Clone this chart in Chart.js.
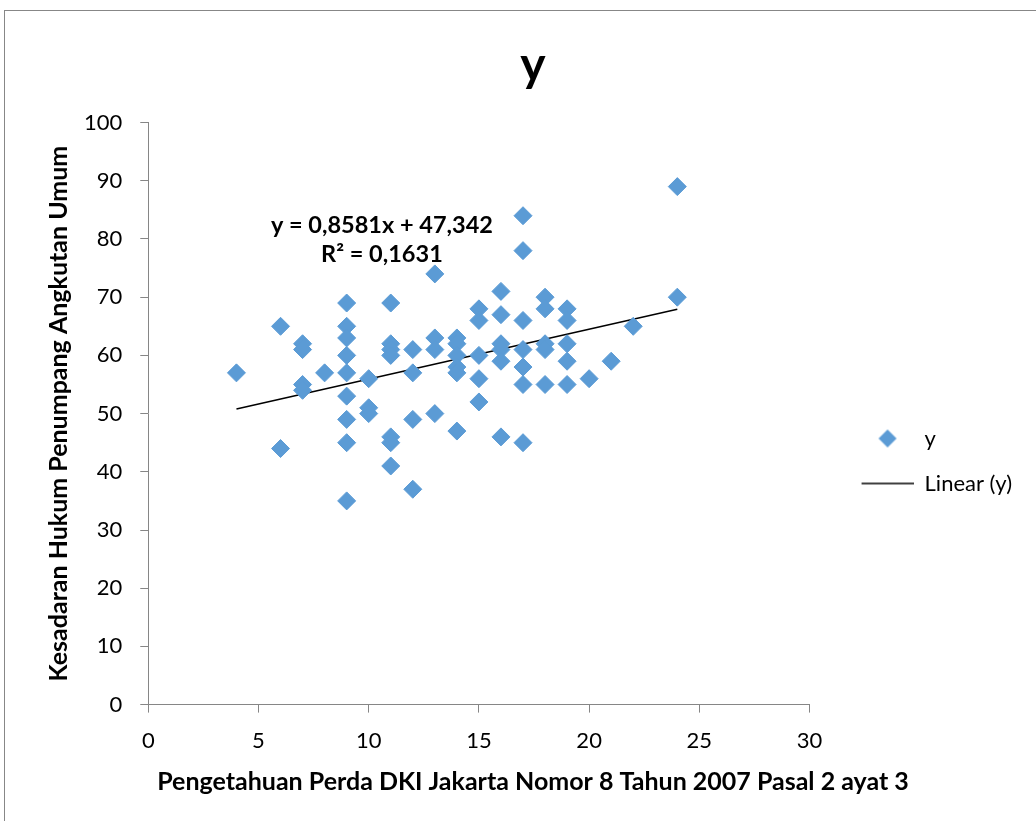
<!DOCTYPE html>
<html>
<head>
<meta charset="utf-8">
<script src="https://cdn.jsdelivr.net/npm/chart.js@4/dist/chart.umd.min.js"></script>
<style>
  html, body { margin: 0; padding: 0; background: #fff; overflow: hidden; }
  #box { position: absolute; left: 4px; top: 10px; border: 1px solid #878787; width: 1050px; height: 900px; }
</style>
</head>
<body>
<div id="box"><canvas id="myChart" width="1050" height="900"></canvas></div>
<script>
// Datos
const xValues = [4, 6, 6, 7, 7, 7, 7, 8,
  9, 9, 9, 9, 9, 9, 9, 9, 9,
  10, 10, 10,
  11, 11, 11, 11, 11, 11, 11,
  12, 12, 12, 12,
  13, 13, 13, 13,
  14, 14, 14, 14, 14, 14,
  15, 15, 15, 15, 15,
  16, 16, 16, 16, 16, 16,
  17, 17, 17, 17, 17, 17, 17,
  18, 18, 18, 18, 18,
  19, 19, 19, 19, 19,
  20, 21, 22, 24, 24];
const yValues = [57, 65, 44, 62, 61, 55, 54, 57,
  69, 65, 63, 60, 57, 53, 49, 45, 35,
  56, 51, 50,
  69, 62, 61, 60, 46, 45, 41,
  61, 57, 49, 37,
  74, 63, 61, 50,
  63, 62, 60, 58, 57, 47,
  68, 66, 60, 56, 52,
  71, 67, 62, 61, 59, 46,
  84, 78, 66, 61, 58, 55, 45,
  70, 68, 62, 61, 55,
  68, 66, 62, 59, 55,
  56, 59, 65, 89, 70];

// Linea de tendencia (ecuacion del grafico)
const slope = 0.8581;
const intercept = 47.342;
const rSquared = 0.1631;
const trendX = [4, 24];
// Posicion de la etiqueta de la ecuacion (en unidades de datos)
const eqLabelX = 10.6;
const eqLabelY = [82.4, 77.3];

const seriesName = 'y';
const trendName = 'Linear (y)';
const xTitle = 'Pengetahuan Perda DKI Jakarta Nomor 8 Tahun 2007 Pasal 2 ayat 3';
const yTitle = 'Kesadaran Hukum Penumpang Angkutan Umum';

const blue = '#5b9bd5';
const axisGray = '#868686';
const font = 'Lato';

const comma = (v) => String(v).replace('.', ',');
const eqLines = [
  'y = ' + comma(slope) + 'x + ' + comma(intercept),
  'R² = ' + comma(rSquared)
];

// Iconos de la leyenda
const legendGap = 29;
const legendLine = 52;
function legendIcon(kind) {
  let c = document.createElement('canvas');
  c.width = legendGap + legendLine;
  c.height = 20;
  let g = c.getContext('2d');
  if (kind === 'diamond') {
    let cx = legendGap + legendLine / 2, cy = 10, r = 9;
    g.fillStyle = blue;
    g.beginPath();
    g.moveTo(cx, cy - r); g.lineTo(cx + r, cy); g.lineTo(cx, cy + r); g.lineTo(cx - r, cy);
    g.closePath();
    g.fill();
  } else {
    g.strokeStyle = '#000';
    g.lineWidth = 1.5;
    g.beginPath();
    g.moveTo(legendGap, 10); g.lineTo(legendGap + legendLine, 10);
    g.stroke();
  }
  return c;
}
const icons = [legendIcon('diamond'), legendIcon('line')];

// Etiqueta con la ecuacion de la tendencia
const equationLabel = {
  id: 'equationLabel',
  afterDatasetsDraw(chart) {
    const c = chart.ctx;
    const sx = chart.scales.x, sy = chart.scales.y;
    c.save();
    c.font = 'bold 23.5px ' + font;
    c.fillStyle = '#000';
    c.textAlign = 'center';
    c.textBaseline = 'middle';
    eqLines.forEach((t, i) => {
      c.fillText(t, sx.getPixelForValue(eqLabelX), sy.getPixelForValue(eqLabelY[i]));
    });
    c.restore();
  }
};

let ctx = document.getElementById('myChart');
let myChart = new Chart(ctx, {
  type: 'scatter',
  data: {
    datasets: [{
      label: seriesName,
      data: xValues.map((x, i) => ({x: x, y: yValues[i]})),
      backgroundColor: blue,
      borderColor: blue,
      borderWidth: 1,
      pointStyle: 'rectRot',
      pointRadius: 9,
      pointHoverRadius: 9
    }, {
      type: 'line',
      label: trendName,
      data: trendX.map(x => ({x: x, y: slope * x + intercept})),
      borderColor: '#000',
      borderWidth: 1.5,
      pointRadius: 0,
      fill: false
    }]
  },
  plugins: [equationLabel],
  options: {
    responsive: false,
    animation: false,
    layout: { padding: { left: 39, right: 33, top: 0, bottom: 114 } },
    plugins: {
      title: {
        display: true,
        text: seriesName,
        color: '#000',
        font: { family: font, size: 48, weight: 'bold' },
        padding: { top: 26, bottom: 28 }
      },
      subtitle: {
        display: true,
        position: 'bottom',
        text: xTitle,
        color: '#000',
        font: { family: font, size: 25, weight: 'bold' },
        padding: { top: -2, bottom: 0 }
      },
      legend: {
        position: 'right',
        title: { display: true, text: ' ', font: { family: font, size: 20 }, padding: { top: 0, bottom: 90 } },
        labels: {
          color: '#000',
          font: { family: font, size: 22 },
          usePointStyle: true,
          pointStyleWidth: legendGap + legendLine,
          boxWidth: legendGap + legendLine,
          padding: 23,
          generateLabels: (chart) => chart.data.datasets.map((ds, i) => ({
            text: ds.label,
            fontColor: '#000',
            pointStyle: icons[i],
            fillStyle: 'transparent',
            strokeStyle: 'transparent',
            lineWidth: 0,
            datasetIndex: i
          }))
        }
      },
      tooltip: { enabled: false }
    },
    scales: {
      x: {
        type: 'linear',
        min: 0,
        max: 30,
        ticks: { stepSize: 5, padding: 15, color: '#000', font: { family: font, size: 22 } },
        grid: { display: true, drawOnChartArea: false, drawTicks: true, tickLength: 8, color: axisGray },
        border: { color: axisGray, width: 1 }
      },
      y: {
        min: 0,
        max: 100,
        ticks: { stepSize: 10, padding: 18, color: '#000', font: { family: font, size: 22 } },
        grid: { display: true, drawOnChartArea: false, drawTicks: true, tickLength: 8, color: axisGray },
        border: { color: axisGray, width: 1 },
        title: {
          display: true,
          text: yTitle,
          color: '#000',
          font: { family: font, size: 25, weight: 'bold' },
          padding: { top: 0, bottom: -8 }
        }
      }
    }
  }
});
</script>
</body>
</html>
